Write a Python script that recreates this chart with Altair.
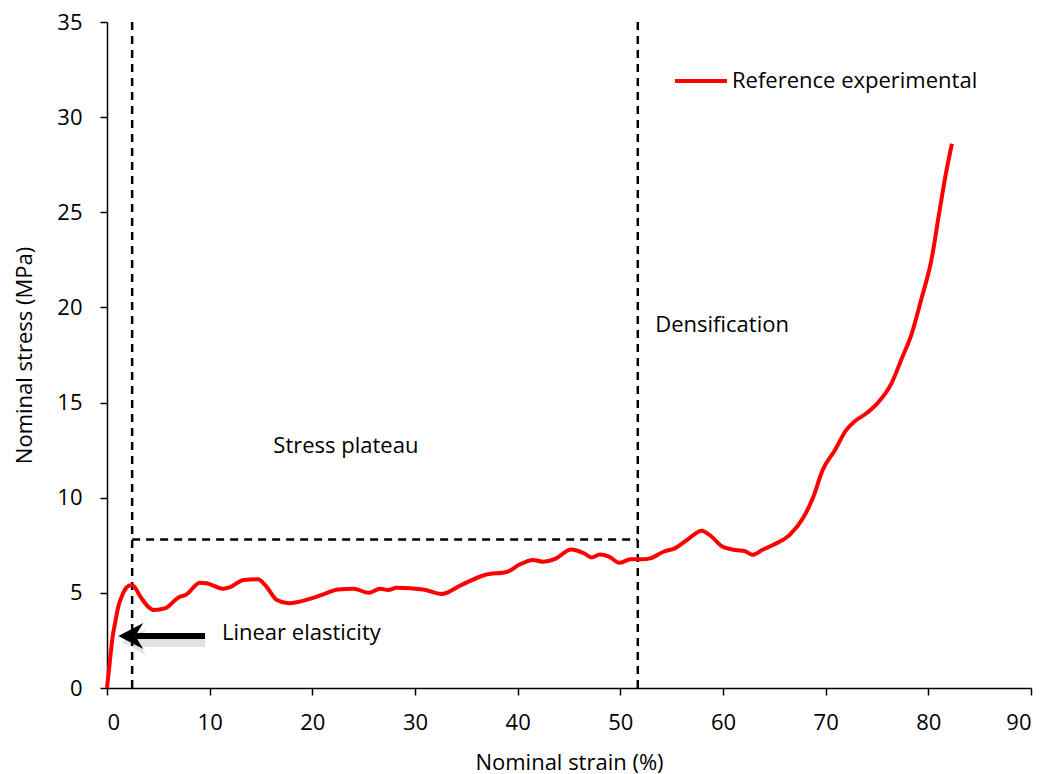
import altair as alt
import pandas as pd

# Compression curve of the lattice specimen
strain = [0, 0.29, 0.55, 0.78, 1.1, 1.43, 1.92, 2.4, 2.6, 3.25, 4.55, 5.7, 7.0, 7.7,
          9.05, 9.7, 11.3, 12.0, 13.3, 14.7, 15.4, 16.55, 17.7, 19.9, 21.2, 22.5,
          24.0, 25.5, 26.6, 27.4, 28.2, 30.8, 32.6, 34.5, 36.8, 39.0, 40.1, 41.5,
          42.4, 43.7, 45.2, 46.5, 47.2, 48.0, 48.9, 49.9, 51.0, 52.1, 52.9, 54.2,
          55.3, 56.6, 57.9, 58.9, 59.9, 61.2, 62.1, 62.9, 63.8, 65.0, 66.5, 67.8,
          68.8, 69.7, 70.9, 72.0, 72.8, 74.0, 75.1, 76.4, 77.4, 78.4, 79.3, 80.3,
          81.1, 81.7, 82.3]
stress = [0, 1.47, 2.7, 3.4, 4.27, 4.8, 5.29, 5.41, 5.36, 4.8, 4.1, 4.2, 4.77, 4.9,
          5.53, 5.5, 5.22, 5.3, 5.68, 5.71, 5.41, 4.62, 4.45, 4.71, 4.95, 5.18,
          5.22, 5.0, 5.22, 5.15, 5.27, 5.18, 4.94, 5.41, 5.94, 6.11, 6.46, 6.73,
          6.64, 6.8, 7.28, 7.07, 6.86, 7.02, 6.9, 6.58, 6.76, 6.76, 6.81, 7.16,
          7.34, 7.82, 8.27, 7.95, 7.45, 7.25, 7.2, 7.0, 7.25, 7.55, 8.05, 8.93,
          10.05, 11.45, 12.5, 13.55, 14.0, 14.45, 15.0, 16.0, 17.3, 18.65, 20.4,
          22.5, 25.1, 27.0, 28.6]
series_name = "Reference experimental"

# Region boundaries
plateau_start = 2.45
plateau_end = 51.7
plateau_level = 7.8
y_top = 35

# Linear-elasticity arrow
arrow_tail = 9.55
arrow_notch = 2.75
arrow_tip = 1.1
arrow_y = 2.73

# Region labels
label_text = ["Stress plateau", "Densification", "Linear elasticity"]
label_x = [16.2, 53.4, 11.2]
label_y = [12.7, 19.1, 2.9]

FONT = "Open Sans"
FS = 22

curve_df = pd.DataFrame({"strain": strain, "stress": stress, "series": series_name})

xs = alt.Scale(domain=[0, 90], nice=False)
ys = alt.Scale(domain=[0, 35], nice=False)

x_axis = alt.Axis(values=list(range(0, 91, 10)), title="Nominal strain (%)",
                  grid=False, tickSize=7, labelPadding=17, titlePadding=19)
y_axis = alt.Axis(values=list(range(0, 36, 5)), title="Nominal stress (MPa)",
                  grid=False, tickSize=7, labelPadding=18, titlePadding=20)

curve = alt.Chart(curve_df).mark_line(strokeWidth=4, interpolate="monotone").encode(
    x=alt.X("strain:Q", scale=xs, axis=x_axis),
    y=alt.Y("stress:Q", scale=ys, axis=y_axis),
    color=alt.Color("series:N",
                    scale=alt.Scale(domain=[series_name], range=["#ff0000"]),
                    legend=alt.Legend(title=None, orient="none", legendX=566, legendY=31,
                                      symbolType="stroke", symbolSize=2704,
                                      symbolStrokeWidth=4, labelFont=FONT,
                                      labelFontSize=FS, labelColor="black",
                                      labelOffset=3, labelLimit=0, padding=0)),
    order=alt.Order("strain:Q"),
)

dash = [8, 6]
vert_df = pd.DataFrame({"x": [plateau_start, plateau_end], "y0": [0, 0], "y1": [y_top, y_top]})
vert = alt.Chart(vert_df).mark_rule(color="black", strokeWidth=2.5, strokeDash=dash).encode(
    x=alt.X("x:Q", scale=xs), y=alt.Y("y0:Q", scale=ys), y2="y1:Q")

horiz_df = pd.DataFrame({"x0": [plateau_start], "x1": [plateau_end], "y": [plateau_level]})
horiz = alt.Chart(horiz_df).mark_rule(color="black", strokeWidth=2.5, strokeDash=dash).encode(
    x=alt.X("x0:Q", scale=xs), x2="x1:Q", y=alt.Y("y:Q", scale=ys))

arrow_df = pd.DataFrame({"x0": [arrow_notch], "x1": [arrow_tail], "y": [arrow_y]})
tip_df = pd.DataFrame({"x": [arrow_tip], "y": [arrow_y]})
# stealth arrow head with its tip at the anchor point, pointing left
head_path = "M 0 0 L 2 -1.04 L 1.35 0 L 2 1.04 Z"

shadow_line = alt.Chart(arrow_df).mark_rule(color="#8c8c8c", strokeWidth=10, opacity=0.25,
                                            xOffset=3, yOffset=6).encode(
    x=alt.X("x0:Q", scale=xs), x2="x1:Q", y=alt.Y("y:Q", scale=ys))
shadow_head = alt.Chart(tip_df).mark_point(shape=head_path, size=625, filled=True,
                                           fill="#8c8c8c", strokeWidth=0, opacity=0.25,
                                           xOffset=3, yOffset=6).encode(
    x=alt.X("x:Q", scale=xs), y=alt.Y("y:Q", scale=ys))
arrow_line = alt.Chart(arrow_df).mark_rule(color="black", strokeWidth=6).encode(
    x=alt.X("x0:Q", scale=xs), x2="x1:Q", y=alt.Y("y:Q", scale=ys))
arrow_head = alt.Chart(tip_df).mark_point(shape=head_path, size=625, filled=True,
                                          fill="black", strokeWidth=0, opacity=1).encode(
    x=alt.X("x:Q", scale=xs), y=alt.Y("y:Q", scale=ys))

labels_df = pd.DataFrame({"t": label_text, "x": label_x, "y": label_y})
labels = alt.Chart(labels_df).mark_text(align="left", baseline="middle", font=FONT,
                                        fontSize=FS, color="black").encode(
    x=alt.X("x:Q", scale=xs), y=alt.Y("y:Q", scale=ys), text="t:N")

chart = alt.layer(shadow_line, shadow_head, vert, horiz, curve, arrow_line, arrow_head,
                  labels).properties(
    width=924, height=666,
    autosize=alt.AutoSizeParams(type="none"),
    padding={"left": 107, "top": 22, "right": 15, "bottom": 86},
    background="white",
).configure_view(stroke=None).configure_axis(
    domainColor="black", domainWidth=1.5, tickColor="black", tickWidth=1.5,
    labelFont=FONT, labelFontSize=FS, labelColor="black",
    titleFont=FONT, titleFontSize=FS, titleFontWeight="normal", titleColor="black",
)

chart.save("out.html", embed_options={"renderer": "svg", "actions": False})
